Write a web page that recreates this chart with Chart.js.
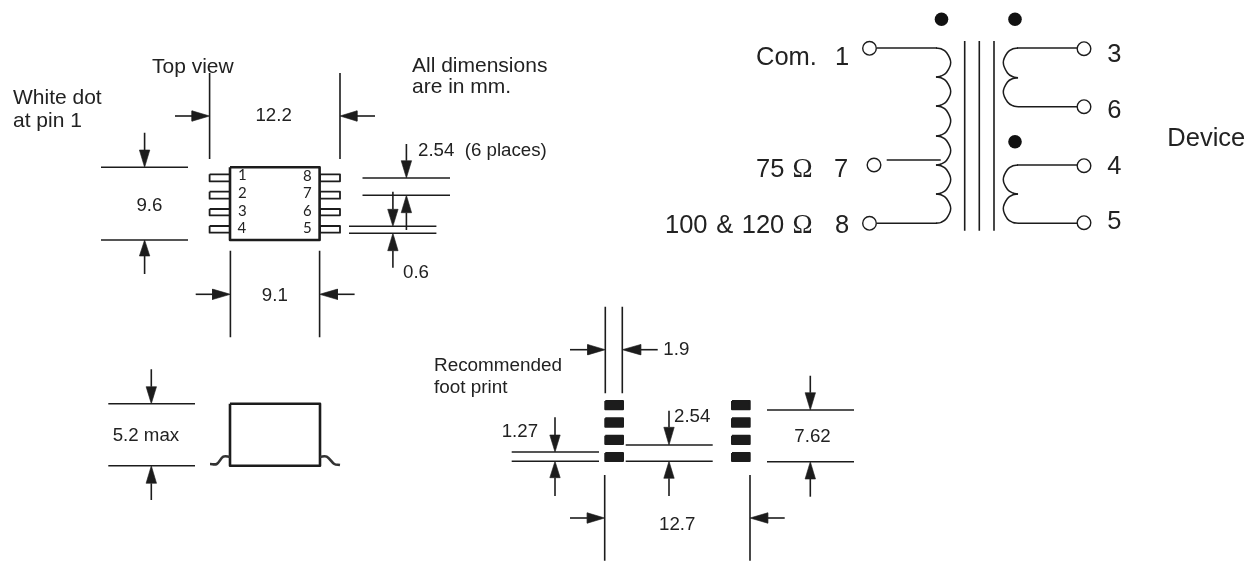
<!DOCTYPE html>
<html>
<head>
<meta charset="utf-8">
<title>Transformer outline</title>
<script src="https://cdn.jsdelivr.net/npm/chart.js@4/dist/chart.umd.min.js"></script>
<style>
  html, body { margin: 0; padding: 0; background: #fff; }
  canvas { display: block; }
</style>
</head>
<body>
<canvas id="drawing" width="1255" height="561"></canvas>
<script>
// everything is in drawing units: [x1, y1, x2, y2]
const dimensionLines = [
  [209.6, 73, 209.6, 159], [340, 73, 340, 159],
  [101, 167.3, 188, 167.3], [101, 240, 188, 240],
  [362.5, 178, 450, 178], [362.5, 195.3, 450, 195.3],
  [349, 226.3, 436.4, 226.3], [349, 233.3, 436.4, 233.3],
  [230.4, 250.7, 230.4, 337.3], [319.6, 250.7, 319.6, 337.3],
  [108.3, 403.7, 195, 403.7], [108.3, 465.7, 195, 465.7],
  [605.3, 306.7, 605.3, 393.3], [622.3, 306.7, 622.3, 393.3],
  [511.7, 452, 599, 452], [511.7, 461.3, 599, 461.3],
  [625.7, 445, 712.7, 445], [625.7, 461.3, 712.7, 461.3],
  [767, 410, 854, 410], [767, 461.7, 854, 461.7],
  [604.7, 475, 604.7, 560.7], [750, 475, 750, 560.7]
];

// [tailX, baseX, tipX, y]
const horizontalArrows = [
  [175, 192, 209.6, 116], [375, 357, 340, 116],
  [195.7, 212.5, 230.4, 294.3], [354.6, 337.5, 319.6, 294.3],
  [570, 587.7, 605.3, 349.7], [657.7, 640.7, 622.3, 349.7],
  [570, 587.3, 604.7, 518], [784.7, 767.7, 750, 518]
];

// [x, tailY, baseY, tipY]
const verticalArrows = [
  [144.6, 132.7, 150, 167.3], [144.6, 274, 256, 240],
  [406.4, 144, 160.7, 178], [406.4, 230, 212.7, 195.3],
  [392.9, 191.7, 209.3, 226.3], [392.9, 267.7, 250.7, 233.3],
  [151.3, 369.3, 386.7, 403.7], [151.3, 500, 483.3, 465.7],
  [555, 417.3, 435, 452], [555, 496, 477.7, 461.3],
  [669, 410.7, 427.3, 445], [669, 496, 478.3, 461.3],
  [810.3, 375.7, 392.7, 410], [810.3, 496.7, 479, 461.7]
];

// [left, top, right, bottom]
const chipBodies = [[230, 167.3, 319.6, 240], [230, 403.7, 320, 465.7]];
const chipPins = [
  [209.6, 174.3, 230, 181.3], [209.6, 191.7, 230, 198.7],
  [209.6, 209, 230, 215.3], [209.6, 226, 230, 232.7],
  [320, 174.3, 340, 181.3], [320, 191.7, 340, 198.7],
  [320, 209, 340, 215.3], [320, 226, 340, 232.7]
];
const footprintPads = [
  [605.3, 401, 623, 409.3], [605.3, 418.3, 623, 426.7],
  [605.3, 435.7, 623, 444], [605.3, 453, 623, 461],
  [732, 401, 749.7, 409.3], [732, 418.3, 749.7, 426.7],
  [732, 435.7, 749.7, 444], [732, 453, 749.7, 461]
];

const sideLeads = [
  [[230, 456.7], [223.3, 456.7], [216.7, 464], [210, 464]],
  [[320, 456.7], [326.7, 456.7], [334.3, 464], [340, 465]]
];

const coreLines = [
  [964.7, 41, 964.7, 230.7], [979.3, 41, 979.3, 230.7], [994, 41, 994, 230.7]
];
const wires = [
  [877, 48, 937, 48], [877, 223.3, 937, 223.3], [886.7, 160, 940.7, 160],
  [1017, 48, 1077, 48], [1018, 106.7, 1077, 106.7],
  [1017, 165, 1077, 165], [1018, 223.3, 1077, 223.3]
];
const coilArcs = [
  [[936, 48], [941, 48.8], [946.5, 52.5], [950.7, 62.5], [946.5, 72.5], [941, 76], [936, 77]],
  [[936, 77], [941, 77.8], [946.5, 81.5], [950.7, 91.5], [946.5, 101.5], [941, 105], [936, 106]],
  [[936, 106], [941, 106.8], [946.5, 110.5], [950.7, 121], [946.5, 131.5], [941, 135], [936, 136]],
  [[936, 136], [941, 136.8], [946.5, 140.5], [950.7, 150.5], [946.5, 160.5], [941, 164], [936, 165]],
  [[936, 165], [941, 165.8], [946.5, 169.5], [950.7, 179.5], [946.5, 189.5], [941, 193], [936, 194]],
  [[936, 194], [941, 194.8], [946.5, 198.5], [950.7, 208.5], [946.5, 218.5], [941, 222.4], [936, 223.3]],
  [[1018, 48], [1013, 48.8], [1007.5, 52.5], [1003.3, 62.5], [1007.5, 73], [1013, 76.8], [1018, 77.7]],
  [[1018, 77.7], [1013, 78.5], [1007.5, 82], [1003.3, 92], [1007.5, 102], [1013, 105.8], [1018, 106.7]],
  [[1018, 165], [1013, 165.8], [1007.5, 169.5], [1003.3, 179.5], [1007.5, 189.5], [1013, 193], [1018, 194]],
  [[1018, 194], [1013, 194.8], [1007.5, 198.5], [1003.3, 208.5], [1007.5, 219], [1013, 222.5], [1018, 223.3]]
];
const terminals = [
  [869.5, 48.3], [874, 165], [869.5, 223.3],
  [1084, 48.7], [1084, 106.7], [1084, 165.7], [1084, 222.7]
];
const polarityDots = [[941.5, 19.3], [1015, 19.3], [1015, 141.7]];

// [text, left, baseline]
const noteLabels = [
  ['Top view', 152, 73.3], ['White dot', 13, 104], ['at pin 1', 13, 127.3],
  ['All dimensions', 412, 71.5], ['are in mm.', 412, 93.2]
];
const footprintLabels = [['Recommended', 434, 370.7], ['foot print', 434, 392.7]];
const dimensionLabels = [
  ['12.2', 255.4, 121], ['2.54  (6 places)', 418, 156], ['9.6', 136.4, 211],
  ['0.6', 403, 278], ['9.1', 261.8, 301], ['5.2 max', 112.7, 441],
  ['1.9', 663.3, 355], ['1.27', 501.7, 437.3], ['2.54', 674, 422],
  ['7.62', 794.3, 442.3], ['12.7', 659, 530]
];
const schematicLabels = [
  ['Com.', 756, 64.5], ['1', 835, 64.5], ['75', 756, 177.3], ['7', 834, 177.3],
  ['100 & 120', 665, 232.7], ['8', 835, 232.7],
  ['3', 1107.3, 62.3], ['6', 1107.3, 118.3], ['4', 1107.3, 174], ['5', 1107.3, 229.3],
  ['Device', 1167.3, 146]
];
const omegaLabels = [['Ω', 792.5, 177.3], ['Ω', 792.5, 232.7]];
const chipDigits = [
  ['1', 238, 180], ['2', 238, 198.3], ['3', 238, 216], ['4', 237.5, 232.7],
  ['8', 303, 180.7], ['7', 303, 198], ['6', 303, 216], ['5', 303, 232.7]
];

const INK = '#1c1c1c';
const HEAD_HALF = 5.2;

const toPoints = list => list.map(p => ({ x: p[0], y: p[1] }));

function stroke(points, width, color) {
  return {
    data: toPoints(points), showLine: true, pointRadius: 0, fill: false,
    borderColor: color || INK, borderWidth: width, tension: 0
  };
}

function polygon(points, fillColor, width) {
  return {
    data: toPoints(points.concat([points[0]])), showLine: true, pointRadius: 0,
    borderColor: INK, borderWidth: width, backgroundColor: fillColor,
    fill: 'shape', tension: 0, borderJoinStyle: 'round', order: 1
  };
}

const rectPoints = r => [[r[0], r[1]], [r[2], r[1]], [r[2], r[3]], [r[0], r[3]]];

const datasets = [];
dimensionLines.concat(coreLines, wires).forEach(s => {
  datasets.push(stroke([[s[0], s[1]], [s[2], s[3]]], 1.6));
});
horizontalArrows.forEach(a => {
  datasets.push(stroke([[a[0], a[3]], [a[1], a[3]]], 1.6));
  datasets.push(polygon([[a[2], a[3]], [a[1], a[3] - HEAD_HALF], [a[1], a[3] + HEAD_HALF]], INK, 0.6));
});
verticalArrows.forEach(a => {
  datasets.push(stroke([[a[0], a[1]], [a[0], a[2]]], 1.6));
  datasets.push(polygon([[a[0], a[3]], [a[0] - HEAD_HALF, a[2]], [a[0] + HEAD_HALF, a[2]]], INK, 0.6));
});
chipBodies.forEach(r => datasets.push(polygon(rectPoints(r), '#fff', 2.6)));
chipPins.forEach(r => datasets.push(polygon(rectPoints(r), '#fff', 1.8)));
footprintPads.forEach(r => datasets.push(polygon(rectPoints(r), INK, 2)));
sideLeads.forEach(l => datasets.push(Object.assign(stroke(l, 2.6, '#333'), { tension: 0.35 })));
coilArcs.forEach(a => datasets.push(Object.assign(stroke(a, 1.5), { tension: 0.4 })));
datasets.push({
  data: toPoints(terminals), showLine: false, pointRadius: 6.8, pointBorderWidth: 1.4,
  pointBackgroundColor: '#fff', pointBorderColor: INK, order: 0
});
datasets.push({
  data: toPoints(polarityDots), showLine: false, pointRadius: 6.8, pointBorderWidth: 0,
  pointBackgroundColor: '#111', order: 0
});

// [labels, font, word spacing]
const labelGroups = [
  [noteLabels, '21px "Liberation Sans"', '0px'],
  [footprintLabels, '18.9px "Liberation Sans"', '0px'],
  [dimensionLabels, '18.7px "Liberation Sans"', '0px'],
  [schematicLabels, '25.5px "Liberation Sans"', '1.5px'],
  [omegaLabels, '27px "Liberation Serif"', '0px'],
  [chipDigits, '15px Lato', '0px']
];

const textPlugin = {
  id: 'drawingText',
  afterDatasetsDraw(chart) {
    const { ctx, scales } = chart;
    ctx.save();
    ctx.fillStyle = '#222';
    ctx.textAlign = 'left';
    ctx.textBaseline = 'alphabetic';
    labelGroups.forEach(([labels, font, spacing]) => {
      ctx.font = font;
      ctx.wordSpacing = spacing;
      labels.forEach(l => {
        ctx.fillText(l[0], scales.x.getPixelForValue(l[1]), scales.y.getPixelForValue(l[2]));
      });
    });
    ctx.restore();
  }
};

new Chart(document.getElementById('drawing'), {
  type: 'scatter',
  data: { datasets: datasets },
  plugins: [textPlugin],
  options: {
    responsive: false,
    animation: false,
    layout: { autoPadding: false, padding: 0 },
    plugins: { legend: { display: false }, tooltip: { enabled: false } },
    scales: {
      x: { type: 'linear', min: 0, max: 1255, display: false },
      y: { type: 'linear', min: 0, max: 561, reverse: true, display: false }
    }
  }
});
</script>
</body>
</html>
